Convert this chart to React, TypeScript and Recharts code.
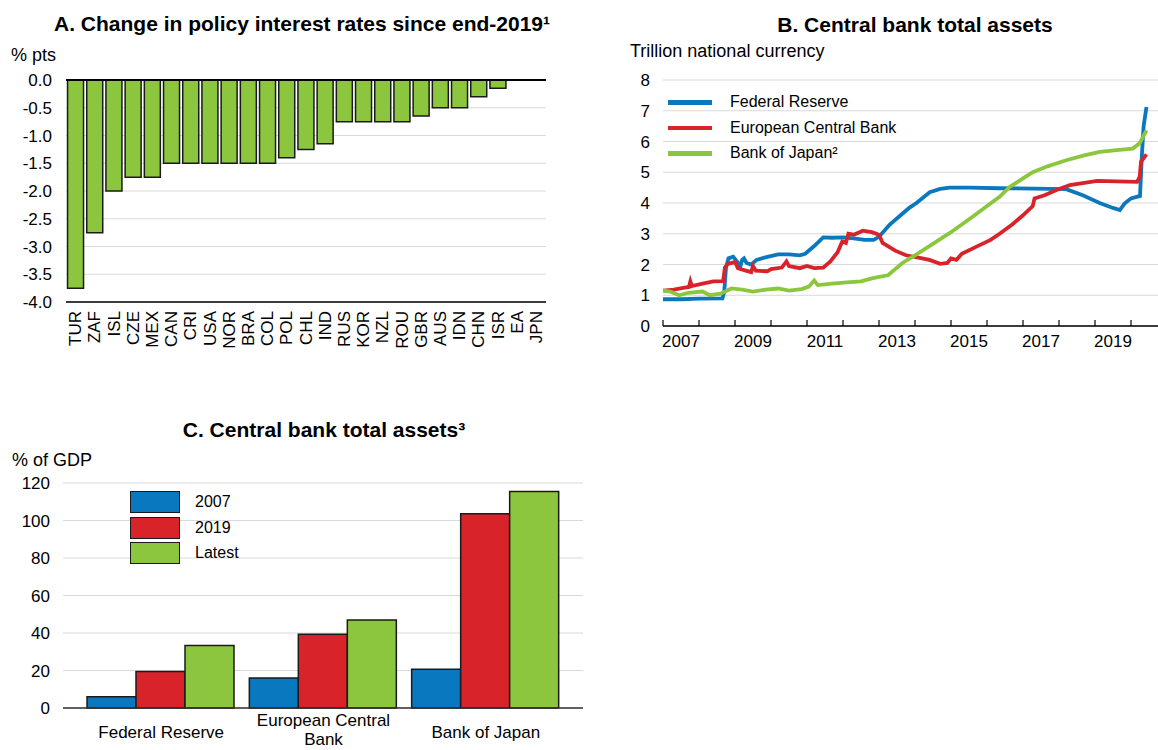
import React from 'react';
import { BarChart, Bar, LineChart, Line, XAxis, YAxis, CartesianGrid, ReferenceLine } from 'recharts';

const FONT = '"Liberation Sans", Arial, sans-serif';
const BLUE = '#0a78be';
const RED = '#d9232a';
const GREEN = '#8cc63f';
const GRID = '#d9d9d9';
const EDGE = '#1a1a1a';

// A. Change in policy interest rates since end-2019
const countries = ['TUR', 'ZAF', 'ISL', 'CZE', 'MEX', 'CAN', 'CRI', 'USA', 'NOR', 'BRA', 'COL', 'POL', 'CHL',
  'IND', 'RUS', 'KOR', 'NZL', 'ROU', 'GBR', 'AUS', 'IDN', 'CHN', 'ISR', 'EA', 'JPN'];
const rateChange = [-3.75, -2.75, -2.0, -1.75, -1.75, -1.5, -1.5, -1.5, -1.5, -1.5, -1.5, -1.4, -1.25,
  -1.15, -0.75, -0.75, -0.75, -0.75, -0.65, -0.5, -0.5, -0.3, -0.15, 0, 0];
const rateTicks = [-4, -3.5, -3, -2.5, -2, -1.5, -1, -0.5, 0];

// B. Central bank total assets, trillion national currency ([year, value])
const fedAssets = [
  [2007.0, 0.87], [2007.5, 0.87], [2008.0, 0.89], [2008.65, 0.9], [2008.7, 1.1], [2008.75, 1.9], [2008.82, 2.2],
  [2008.95, 2.25], [2009.05, 2.1], [2009.15, 1.95], [2009.2, 2.15], [2009.25, 2.2], [2009.32, 2.05], [2009.45, 2.0],
  [2009.6, 2.15], [2009.9, 2.25], [2010.2, 2.33], [2010.5, 2.33], [2010.8, 2.3], [2010.95, 2.35], [2011.2, 2.6],
  [2011.45, 2.88], [2011.7, 2.87], [2012.0, 2.88], [2012.3, 2.85], [2012.6, 2.8], [2012.85, 2.8], [2013.0, 2.9],
  [2013.3, 3.3], [2013.6, 3.6], [2013.85, 3.85], [2014.04, 4.0], [2014.41, 4.35], [2014.7, 4.46], [2014.96, 4.5],
  [2015.5, 4.5], [2016.35, 4.48], [2017.3, 4.47], [2018.2, 4.45], [2018.66, 4.25], [2019.13, 4.0], [2019.5, 3.84],
  [2019.69, 3.77], [2019.82, 3.98], [2020.0, 4.15], [2020.25, 4.23], [2020.3, 5.5], [2020.35, 6.5], [2020.43, 7.12],
];
const ecbAssets = [
  [2007.0, 1.15], [2007.3, 1.18], [2007.6, 1.25], [2007.72, 1.27], [2007.76, 1.45], [2007.8, 1.3], [2008.1, 1.38],
  [2008.4, 1.45], [2008.67, 1.46], [2008.72, 1.9], [2008.8, 2.02], [2009.0, 2.08], [2009.08, 1.88], [2009.3, 1.8],
  [2009.45, 1.75], [2009.5, 1.95], [2009.58, 1.8], [2009.9, 1.78], [2010.0, 1.85], [2010.3, 1.9], [2010.43, 2.1],
  [2010.5, 1.95], [2010.8, 1.88], [2011.0, 1.95], [2011.2, 1.88], [2011.45, 1.9], [2011.65, 2.1], [2011.85, 2.4],
  [2011.98, 2.75], [2012.08, 2.7], [2012.15, 3.0], [2012.3, 2.97], [2012.55, 3.1], [2012.8, 3.05], [2013.0, 2.97],
  [2013.1, 2.7], [2013.45, 2.45], [2013.75, 2.3], [2014.2, 2.2], [2014.4, 2.15], [2014.7, 2.02], [2014.9, 2.05],
  [2015.0, 2.2], [2015.15, 2.15], [2015.3, 2.35], [2015.65, 2.55], [2016.1, 2.8], [2016.35, 3.0], [2016.7, 3.3],
  [2017.0, 3.6], [2017.27, 3.9], [2017.32, 4.15], [2017.6, 4.25], [2017.93, 4.42], [2018.3, 4.58], [2019.06, 4.72],
  [2019.6, 4.7], [2020.17, 4.69], [2020.24, 4.85], [2020.28, 5.35], [2020.43, 5.58],
];
const bojAssets = [
  [2007.0, 1.15], [2007.2, 1.12], [2007.45, 1.0], [2007.7, 1.08], [2008.1, 1.12], [2008.3, 1.0], [2008.6, 1.05],
  [2008.9, 1.22], [2009.2, 1.18], [2009.5, 1.12], [2009.85, 1.18], [2010.2, 1.22], [2010.5, 1.15], [2010.85, 1.2],
  [2011.05, 1.28], [2011.2, 1.48], [2011.3, 1.33], [2011.7, 1.38], [2012.1, 1.42], [2012.5, 1.45], [2012.8, 1.55],
  [2013.0, 1.6], [2013.25, 1.65], [2013.65, 2.05], [2014.0, 2.3], [2014.4, 2.6], [2015.0, 3.05], [2015.6, 3.55],
  [2016.0, 3.9], [2016.35, 4.2], [2016.63, 4.52], [2017.0, 4.8], [2017.27, 5.0], [2017.7, 5.2], [2018.2, 5.39],
  [2018.7, 5.55], [2019.13, 5.66], [2019.6, 5.72], [2020.05, 5.77], [2020.24, 5.94], [2020.43, 6.36],
];
const yearTicks = [2007, 2008, 2009, 2010, 2011, 2012, 2013, 2014, 2015, 2016, 2017, 2018, 2019, 2020];
const assetTicks = [0, 1, 2, 3, 4, 5, 6, 7, 8];
const seriesB = [
  { name: 'Federal Reserve', color: BLUE, points: fedAssets },
  { name: 'European Central Bank', color: RED, points: ecbAssets },
  { name: 'Bank of Japan²', color: GREEN, points: bojAssets },
];

// C. Central bank total assets, % of GDP
const banks = ['Federal Reserve', 'European Central Bank', 'Bank of Japan'];
const gdp2007 = [6, 16, 20.7];
const gdp2019 = [19.5, 39.4, 103.6];
const gdpLatest = [33.4, 47, 115.5];
const gdpTicks = [0, 20, 40, 60, 80, 100, 120];
const seriesC = [
  { key: 'a', name: '2007', color: BLUE },
  { key: 'b', name: '2019', color: RED },
  { key: 'c', name: 'Latest', color: GREEN },
];

const rateData = countries.map((c, i) => ({ c, v: rateChange[i] }));
const gdpData = banks.map((name, i) => ({ name, a: gdp2007[i], b: gdp2019[i], c: gdpLatest[i] }));
const toXY = (pts: number[][]) => pts.map(([t, v]) => ({ t, v }));

const B_W = 578;
const B_LEFT = 83;
const B_DOMAIN: [number, number] = [2007, 2020.75];
const halfYear = (B_W - B_LEFT) / (B_DOMAIN[1] - B_DOMAIN[0]) / 2;

const tickStyle = { fill: '#000', fontSize: 17, fontFamily: FONT };

const RotTick = (props: any) => {
  const { x, y, payload } = props;
  return (
    <text x={x} y={y} transform={`rotate(-90, ${x}, ${y})`} textAnchor="end" dominantBaseline="central"
      fontSize={17} fontFamily={FONT} fill="#000">
      {payload.value}
    </text>
  );
};

const YearTick = (props: any) => {
  const { x, y, payload } = props;
  const yr = payload.value as number;
  return (
    <g>
      <line x1={x} x2={x} y1={y} y2={y - 6} stroke="#000" strokeWidth={1.2} />
      {yr % 2 === 1 && (
        <text x={x + halfYear} y={y + 15} textAnchor="middle" dominantBaseline="central"
          fontSize={17} fontFamily={FONT} fill="#000">
          {yr}
        </text>
      )}
    </g>
  );
};

const wrap = (s: string, max: number) => {
  const words = s.split(' ');
  const lines: string[] = [];
  let cur = '';
  words.forEach((w) => {
    if (cur && (cur + ' ' + w).length > max) {
      lines.push(cur);
      cur = w;
    } else cur = cur ? cur + ' ' + w : w;
  });
  lines.push(cur);
  return lines;
};

const WrapTick = (props: any) => {
  const { x, y, payload } = props;
  const lines = wrap(payload.value, 17);
  const start = y + 24 - ((lines.length - 1) * 19) / 2 - (lines.length - 1) * 2;
  return (
    <g>
      {lines.map((l, i) => (
        <text key={i} x={x} y={start + i * 19} textAnchor="middle" dominantBaseline="central"
          fontSize={17} fontFamily={FONT} fill="#000">
          {l}
        </text>
      ))}
    </g>
  );
};

const abs = (left: number, top: number, extra: React.CSSProperties = {}): React.CSSProperties => ({
  position: 'absolute', left, top, whiteSpace: 'nowrap', fontFamily: FONT, color: '#000', ...extra,
});

const Title = ({ cx, cy, children }: { cx: number; cy: number; children: React.ReactNode }) => (
  <div style={abs(cx, cy - 12, { transform: 'translateX(-50%)', fontSize: 21, fontWeight: 'bold', lineHeight: '24px' })}>
    {children}
  </div>
);

const Unit = ({ x, cy, children }: { x: number; cy: number; children: React.ReactNode }) => (
  <div style={abs(x, cy - 11, { fontSize: 18, lineHeight: '22px' })}>{children}</div>
);

export default function App() {
  return (
    <div style={{ position: 'absolute', left: 0, top: 0, width: 1158, height: 750, background: '#fff', overflow: 'hidden' }}>
      {/* Panel A */}
      <Title cx={302} cy={24}>A. Change in policy interest rates since end-2019¹</Title>
      <Unit x={11} cy={55}>% pts</Unit>
      <div style={{ position: 'absolute', left: 0, top: 0 }}>
        <BarChart width={580} height={360} data={rateData} margin={{ top: 80, right: 34, bottom: 8, left: 16 }}
          barCategoryGap="8%">
          <CartesianGrid vertical={false} stroke={GRID} />
          <XAxis dataKey="c" interval={0} height={50} tickLine={false} tickSize={0} tickMargin={9}
            axisLine={{ stroke: '#000', strokeWidth: 1.5 }} tick={<RotTick />} />
          <YAxis domain={[-4, 0]} ticks={rateTicks} width={50} axisLine={false} tickLine={false} tickSize={0}
            tickMargin={14} tickFormatter={(v: number) => v.toFixed(1)} tick={tickStyle} />
          <Bar dataKey="v" fill={GREEN} stroke={EDGE} strokeWidth={1.5} isAnimationActive={false} />
          <ReferenceLine y={0} stroke="#000" strokeWidth={2} />
        </BarChart>
      </div>

      {/* Panel B */}
      <Title cx={915} cy={25}>B. Central bank total assets</Title>
      <Unit x={630} cy={51}>Trillion national currency</Unit>
      <div style={{ position: 'absolute', left: 580, top: 0 }}>
        <LineChart width={B_W} height={360} margin={{ top: 80, right: 0, bottom: 4, left: 43 }}>
          <CartesianGrid vertical={false} stroke={GRID} />
          <XAxis type="number" dataKey="t" domain={B_DOMAIN} ticks={yearTicks} interval={0} allowDataOverflow
            height={30} tickLine={false} tickSize={0} tickMargin={0}
            axisLine={{ stroke: '#000', strokeWidth: 1.5 }} tick={<YearTick />} />
          <YAxis domain={[0, 8]} ticks={assetTicks} width={40} axisLine={false} tickLine={false} tickSize={0}
            tickMargin={13} tick={tickStyle} />
          {seriesB.map((s) => (
            <Line key={s.name} data={toXY(s.points)} dataKey="v" name={s.name} stroke={s.color} strokeWidth={3.8}
              dot={false} type="linear" isAnimationActive={false} />
          ))}
        </LineChart>
      </div>
      {seriesB.map((s, i) => (
        <React.Fragment key={s.name}>
          <div style={{ position: 'absolute', left: 668, top: 100 + i * 25.7, width: 44, height: 4.5, background: s.color }} />
          <div style={abs(730, 92 + i * 25.7, { fontSize: 16, lineHeight: '20px' })}>{s.name}</div>
        </React.Fragment>
      ))}

      {/* Panel C */}
      <Title cx={324} cy={430}>C. Central bank total assets³</Title>
      <Unit x={12} cy={460}>% of GDP</Unit>
      <div style={{ position: 'absolute', left: 0, top: 400 }}>
        <BarChart width={600} height={350} data={gdpData} margin={{ top: 83, right: 17, bottom: 2, left: 13 }}
          barCategoryGap={7} barGap={0}>
          <CartesianGrid vertical={false} stroke={GRID} />
          <XAxis dataKey="name" interval={0} height={40} padding={{ left: 17, right: 16 }} tickLine={false}
            tickSize={0} tickMargin={0} axisLine={{ stroke: '#333', strokeWidth: 1.5 }} tick={<WrapTick />} />
          <YAxis domain={[0, 120]} ticks={gdpTicks} width={50} axisLine={false} tickLine={false} tickSize={0}
            tickMargin={13} tick={tickStyle} />
          {seriesC.map((s) => (
            <Bar key={s.key} dataKey={s.key} name={s.name} fill={s.color} stroke={EDGE} strokeWidth={1.5}
              isAnimationActive={false} />
          ))}
        </BarChart>
      </div>
      {seriesC.map((s, i) => (
        <React.Fragment key={s.key}>
          <div style={{ position: 'absolute', left: 130, top: 491 + i * 25.5, width: 48, height: 20,
            background: s.color, border: `1.5px solid ${EDGE}` }} />
          <div style={abs(195, 492 + i * 25.5, { fontSize: 16, lineHeight: '20px' })}>{s.name}</div>
        </React.Fragment>
      ))}
    </div>
  );
}
